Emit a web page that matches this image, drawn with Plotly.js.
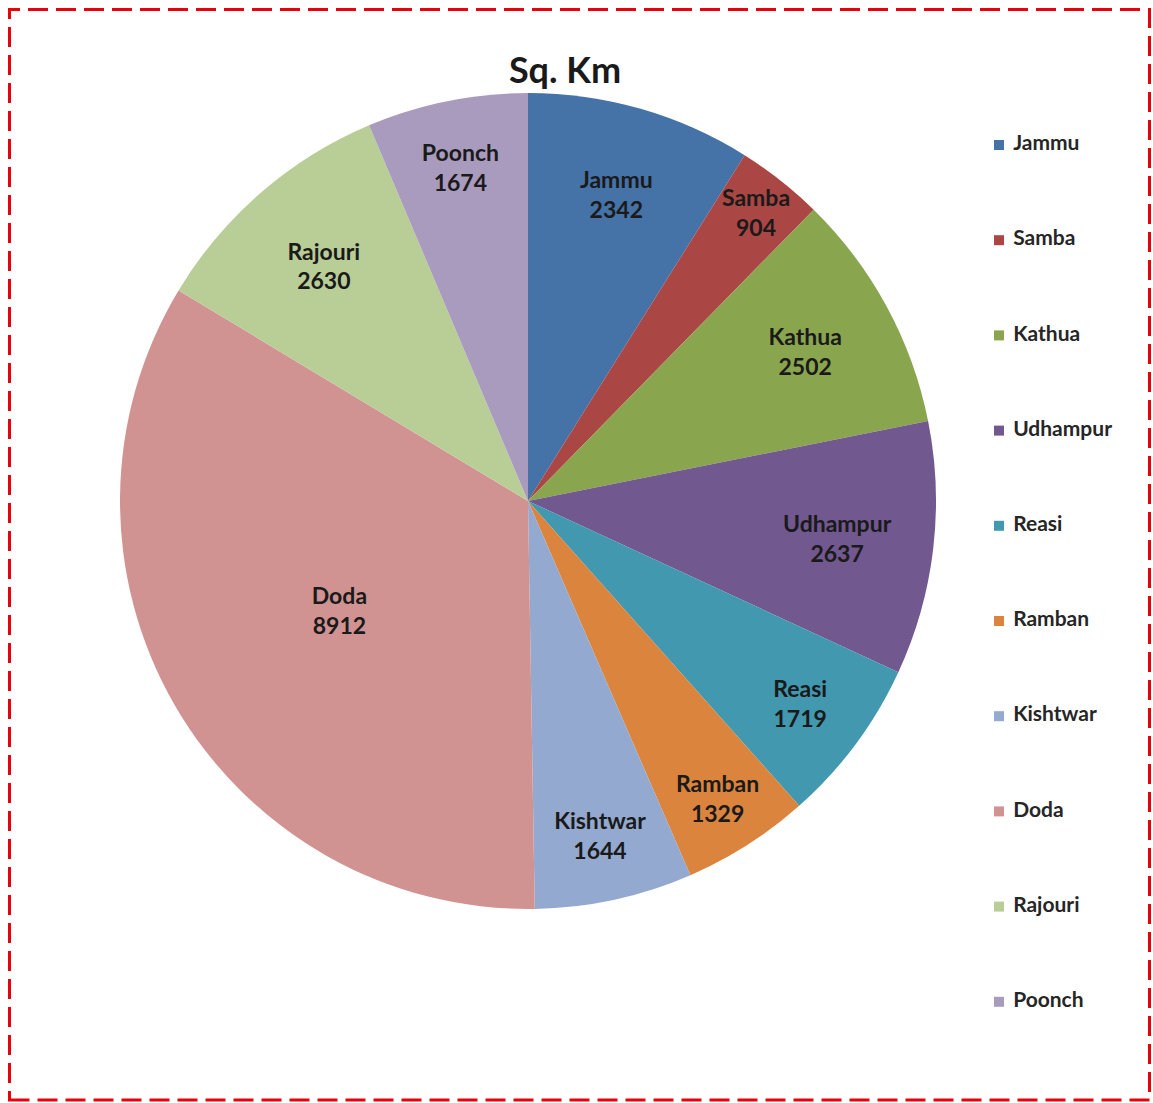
<!DOCTYPE html>
<html>
<head>
<meta charset="utf-8">
<script src="https://cdn.plot.ly/plotly-3.0.1.min.js"></script>
<style>
  html, body { margin: 0; padding: 0; background: #ffffff; }
  #chart { width: 1153px; height: 1103px; }
</style>
</head>
<body>
<div id="chart"></div>
<script>
// Data
const districts = ["Jammu", "Samba", "Kathua", "Udhampur", "Reasi", "Ramban", "Kishtwar", "Doda", "Rajouri", "Poonch"];
const areaSqKm = [2342, 904, 2502, 2637, 1719, 1329, 1644, 8912, 2630, 1674];
const sliceColors = ["#4572A7", "#AA4643", "#89A54E", "#71588F", "#4198AF", "#DB843D", "#93A9CF", "#D19392", "#B9CD96", "#A99BBD"];
const chartTitle = "Sq. Km";

const W = 1153, H = 1103;
const cx = 528, cy = 501, r = 408;

const pie = {
  type: "pie",
  labels: districts,
  values: areaSqKm,
  sort: false,
  direction: "clockwise",
  rotation: 0,
  marker: { colors: sliceColors, line: { width: 0 } },
  texttemplate: "%{label}<br>%{value}",
  textposition: "inside",
  insidetextorientation: "horizontal",
  textfont: { family: "Lato, 'Open Sans', sans-serif", size: 23, color: "#1a1a1a", weight: "bold" },
  hoverinfo: "label+value",
  showlegend: false,
  domain: {
    x: [(cx - r) / W, (cx + r) / W],
    y: [(H - cy - r) / H, (H - cy + r) / H]
  }
};

// Legend drawn as scatter traces on a hidden categorical axis
const legendMarkers = {
  type: "scatter",
  mode: "markers",
  x: districts.map(() => 0),
  y: districts,
  marker: { symbol: "square", size: 10, color: sliceColors },
  cliponaxis: false,
  hoverinfo: "skip",
  showlegend: false
};
const legendLabels = {
  type: "scatter",
  mode: "markers+text",
  x: districts.map(() => 0),
  y: districts,
  text: districts,
  textposition: "middle right",
  textfont: { family: "Lato, 'Open Sans', sans-serif", size: 21, color: "#262626", weight: "bold" },
  marker: { size: 21, opacity: 0, color: "#ffffff" },
  cliponaxis: false,
  hoverinfo: "skip",
  showlegend: false
};

const layout = {
  width: W,
  height: H,
  margin: { l: 0, r: 0, t: 0, b: 0 },
  paper_bgcolor: "#ffffff",
  plot_bgcolor: "rgba(0,0,0,0)",
  showlegend: false,
  title: {
    text: "<b>" + chartTitle + "</b>",
    font: { family: "Lato, 'Open Sans', sans-serif", size: 36, color: "#1a1a1a" },
    x: 565 / W,
    xanchor: "center",
    xref: "paper",
    y: 1 - 70 / H,
    yanchor: "middle",
    yref: "paper"
  },
  uniformtext: { minsize: 23, mode: "show" },
  xaxis: {
    domain: [999 / W, 1.0],
    range: [0, 1],
    visible: false,
    fixedrange: true
  },
  yaxis: {
    domain: [(H - 1049.4) / H, (H - 97.4) / H],
    type: "category",
    range: [9.5, -0.5],
    visible: false,
    fixedrange: true
  },
  shapes: [{
    type: "rect",
    xref: "paper", yref: "paper",
    x0: 9.5 / W, x1: 1149.5 / W,
    y0: (H - 1100) / H, y1: (H - 9.5) / H,
    line: { color: "#e8000b", width: 3, dash: "20px,8px" },
    fillcolor: "rgba(0,0,0,0)"
  }]
};

Plotly.newPlot("chart", [pie, legendMarkers, legendLabels], layout, { displayModeBar: false, staticPlot: true });
</script>
</body>
</html>
